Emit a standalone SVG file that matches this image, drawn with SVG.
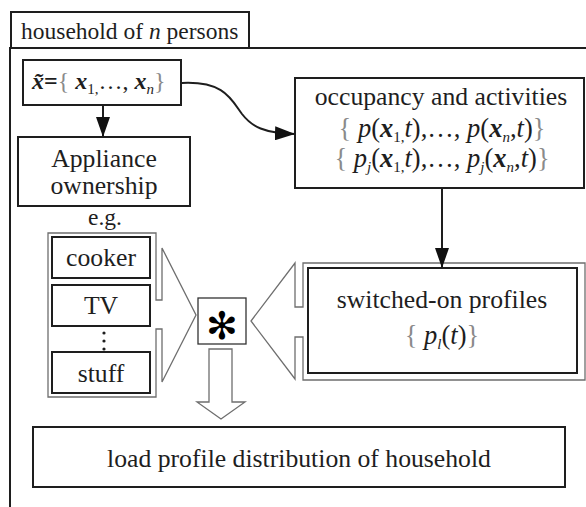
<svg xmlns="http://www.w3.org/2000/svg" width="586" height="507" viewBox="0 0 586 507">
<style>
.t{font-family:"Liberation Serif","Times New Roman",serif;font-size:25.7px;fill:#1e1e1e}
.m{font-family:"Liberation Serif","Times New Roman",serif;font-size:26.5px;fill:#1e1e1e}
.bx{fill:#fff;stroke:#1e1e1e;stroke-width:2}
.gr{fill:none;stroke:#6e6e6e;stroke-width:1.3}
.bi{font-weight:bold;font-style:italic}
.it{font-style:italic}
.br{fill:#8a8a8a}
.sub{font-size:15px}
.ln{fill:none;stroke:#1e1e1e;stroke-width:2}
</style>
<defs>
<marker id="ah" viewBox="0 0 10 10" refX="10" refY="5" markerUnits="userSpaceOnUse" markerWidth="20" markerHeight="14" orient="auto" preserveAspectRatio="none">
<path d="M0,0 L10,5 L0,10 z" fill="#111"/>
</marker>
</defs>
<rect width="586" height="507" fill="#fff"/>

<g id="household">
<rect x="11" y="12" width="238" height="36" class="bx"/>
<path d="M586,48 L10,48 L10,507" class="ln"/>
<text x="21" y="39" class="t" style="font-size:23.5px">household of <tspan class="it">n</tspan> persons</text>
</g>

<g id="persons">
<rect x="23" y="60" width="158" height="45" class="bx"/>
<text x="32" y="89" class="m" style="font-size:24px"><tspan class="bi">x̃</tspan><tspan font-weight="bold">=</tspan><tspan class="br">{</tspan> <tspan class="bi">x</tspan><tspan class="sub" dy="5">1,</tspan><tspan dy="-5">…,</tspan> <tspan class="bi">x</tspan><tspan class="sub it" dy="5">n</tspan><tspan class="br" dy="-5">}</tspan></text>
</g>

<g id="ownership">
<rect x="18" y="137" width="172" height="69" class="bx"/>
<text x="104" y="167" class="t" text-anchor="middle">Appliance</text>
<text x="104" y="194" class="t" text-anchor="middle">ownership</text>
<text x="105" y="225" class="t" text-anchor="middle" style="font-size:23.5px">e.g.</text>
</g>

<g id="occupancy">
<rect x="295" y="78" width="289" height="110" class="bx"/>
<text x="441" y="105" class="t" text-anchor="middle">occupancy and activities</text>
<text x="442" y="137" class="m" text-anchor="middle"><tspan class="br">{</tspan> <tspan class="it">p</tspan>(<tspan class="bi">x</tspan><tspan class="sub" dy="5">1,</tspan><tspan class="it" dy="-5">t</tspan>),…, <tspan class="it">p</tspan>(<tspan class="bi">x</tspan><tspan class="sub it" dy="5">n</tspan><tspan dy="-5">,</tspan><tspan class="it">t</tspan>)<tspan class="br">}</tspan></text>
<text x="442" y="167" class="m" text-anchor="middle"><tspan class="br">{</tspan> <tspan class="it">p</tspan><tspan class="sub it" dy="5">j</tspan><tspan dy="-5">(</tspan><tspan class="bi">x</tspan><tspan class="sub" dy="5">1,</tspan><tspan class="it" dy="-5">t</tspan>),…, <tspan class="it">p</tspan><tspan class="sub it" dy="5">j</tspan><tspan dy="-5">(</tspan><tspan class="bi">x</tspan><tspan class="sub it" dy="5">n</tspan><tspan dy="-5">,</tspan><tspan class="it">t</tspan>)<tspan class="br">}</tspan></text>
</g>

<g id="appliances">
<path d="M48,233 H156 V300 H162 V248 L196,315 L162,382 V329 H156 V397 H48 Z" class="gr"/>
<rect x="52" y="237" width="98" height="41" class="bx"/>
<text x="101" y="266" class="t" text-anchor="middle">cooker</text>
<rect x="52" y="285" width="98" height="41" class="bx"/>
<text x="101" y="314" class="t" text-anchor="middle">TV</text>
<g fill="#1e1e1e"><circle cx="104" cy="333" r="1.6"/><circle cx="104" cy="341" r="1.6"/><circle cx="104" cy="349" r="1.6"/></g>
<rect x="52" y="352" width="98" height="41" class="bx"/>
<text x="101" y="382" class="t" text-anchor="middle">stuff</text>
</g>

<g id="convolution">
<rect x="198" y="298" width="48" height="46" fill="#fff" stroke="#333" stroke-width="1.3"/>
<text x="222" y="339" text-anchor="middle" style="font-family:'DejaVu Sans',sans-serif;font-size:38px;fill:#000">✻</text>
</g>

<g id="switched">
<path d="M303,263 H585 V380 H303 V337 H295 V379 L251,321 L295,263 V307 H303 Z" class="gr"/>
<rect x="308" y="268" width="269" height="105" class="bx" stroke-width="2.4"/>
<text x="442" y="308" class="t" text-anchor="middle">switched-on profiles</text>
<text x="442" y="344" class="m" text-anchor="middle"><tspan class="br">{</tspan> <tspan class="it">p</tspan><tspan class="sub it" dy="5">l</tspan><tspan dy="-5">(</tspan><tspan class="it">t</tspan>)<tspan class="br">}</tspan></text>
</g>

<g id="load">
<rect x="33" y="427" width="532" height="60" class="bx"/>
<text x="299" y="467" class="t" text-anchor="middle">load profile distribution of household</text>
</g>

<g id="connectors">
<path d="M182,83 C224,81 231,99 242,114 C252,127 264,133 295,134" class="ln" marker-end="url(#ah)"/>
<path d="M103,105 V137" class="ln" marker-end="url(#ah)"/>
<path d="M442,188 V268" class="ln" marker-end="url(#ah)"/>
<path d="M209,349 H232 V402 H245 L221,419 L197,402 H209 Z" class="gr" fill="#fff"/>
</g>
</svg>
